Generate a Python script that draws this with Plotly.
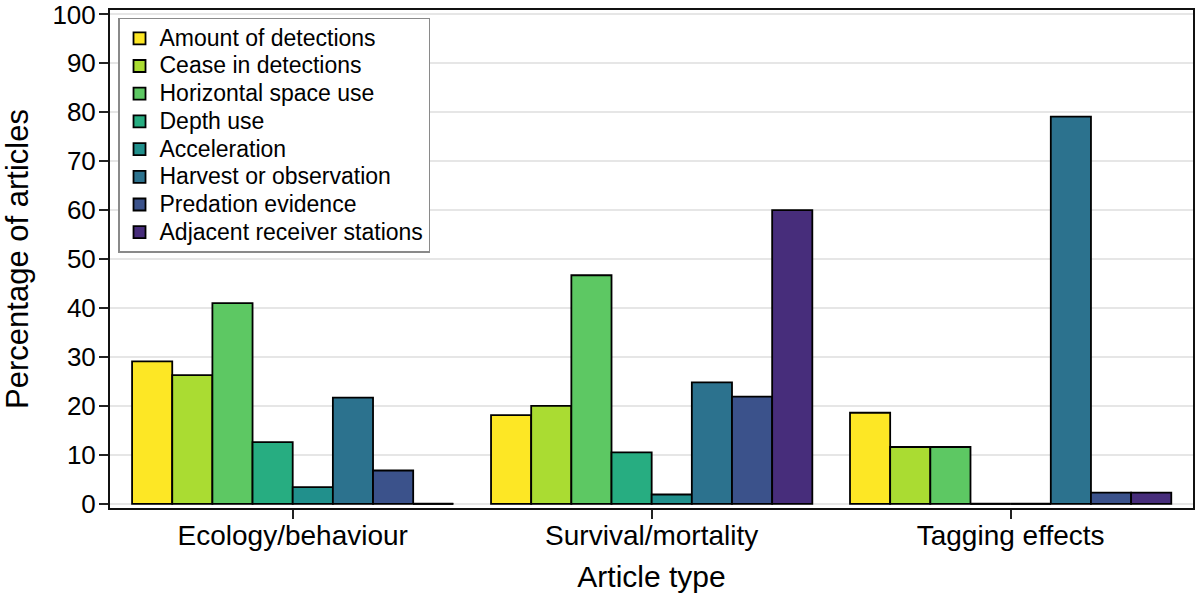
import numpy as np
import plotly.graph_objects as go

categories = ["Ecology/behaviour", "Survival/mortality", "Tagging effects"]
series_names = [
    "Amount of detections",
    "Cease in detections",
    "Horizontal space use",
    "Depth use",
    "Acceleration",
    "Harvest or observation",
    "Predation evidence",
    "Adjacent receiver stations",
]
amount_of_detections = [29.1, 18.1, 18.6]
cease_in_detections = [26.3, 20.0, 11.6]
horizontal_space_use = [41.0, 46.7, 11.6]
depth_use = [12.6, 10.5, 0.0]
acceleration = [3.4, 1.9, 0.0]
harvest_or_observation = [21.7, 24.8, 79.1]
predation_evidence = [6.8, 21.9, 2.3]
adjacent_receiver_stations = [0.0, 60.0, 2.3]

series_values = [
    amount_of_detections,
    cease_in_detections,
    horizontal_space_use,
    depth_use,
    acceleration,
    harvest_or_observation,
    predation_evidence,
    adjacent_receiver_stations,
]
colors = ["#FDE725", "#AADC32", "#5DC863", "#27AD81",
          "#21908C", "#2C728E", "#3B528B", "#472D7B"]
y_ticks = [0, 10, 20, 30, 40, 50, 60, 70, 80, 90, 100]

FONT = "Liberation Sans, Arial, Helvetica, sans-serif"
BARGAP = 0.105
n_series = len(series_names)
bar_w = (1 - BARGAP) / n_series
xpos = np.arange(len(categories))

fig = go.Figure()
for i, (name, vals, col) in enumerate(zip(series_names, series_values, colors)):
    fig.add_trace(go.Bar(
        x=xpos, y=vals, name=f'<span style="font-size:23px">{name}</span>',
        marker=dict(color=col, line=dict(color="black", width=1.8)),
    ))

# zero-height bars are drawn as an outline at y=0 (as in the reference)
zx, zy = [], []
for i, vals in enumerate(series_values):
    for j, v in enumerate(vals):
        if v == 0:
            c = xpos[j] + (i - (n_series - 1) / 2) * bar_w
            zx += [c - bar_w / 2, c + bar_w / 2, None]
            zy += [0, 0, None]
fig.add_trace(go.Scatter(x=zx, y=zy, mode="lines", line=dict(color="black", width=2),
                         showlegend=False, hoverinfo="skip"))

fig.update_layout(
    width=1200, height=595,
    margin=dict(l=110, r=7, t=10, b=87, autoexpand=False),
    barmode="group", bargap=BARGAP, bargroupgap=0,
    plot_bgcolor="white", paper_bgcolor="white",
    font=dict(family=FONT, color="black", size=27),
    showlegend=True,
    legend=dict(
        x=0.0074, y=0.984, xanchor="left", yanchor="top",
        bgcolor="white", bordercolor="#8a8a8a", borderwidth=1.5,
        font=dict(size=19, family=FONT, color="black"),
        traceorder="normal",
    ),
    xaxis=dict(
        range=[-0.509, 2.508], automargin=False,
        tickmode="array", tickvals=list(xpos), ticktext=categories,
        ticks="outside", ticklen=9, tickwidth=1.5, tickcolor="#222",
        showline=True, linecolor="#111", linewidth=2, mirror=True,
        showgrid=False, zeroline=False,
        tickfont=dict(size=28),
        ticklabeloverflow="allow", ticklabelstandoff=-8,
        title=dict(text="Article type", font=dict(size=30), standoff=16),
    ),
    yaxis=dict(
        range=[-0.86, 100.9], automargin=False,
        tickmode="array", tickvals=y_ticks,
        ticks="outside", ticklen=9, tickwidth=1.5, tickcolor="#222",
        showline=True, linecolor="#111", linewidth=2, mirror=True,
        showgrid=True, gridcolor="#e6e6e6", gridwidth=1.5, zeroline=False,
        tickfont=dict(size=26),
        ticklabeloverflow="allow", ticklabelstandoff=-2,
        title=dict(text="Percentage of articles", font=dict(size=31), standoff=28),
    ),
)

fig.write_html("out.html", config={"displayModeBar": False},
               post_script="document.body.style.margin='0';")
